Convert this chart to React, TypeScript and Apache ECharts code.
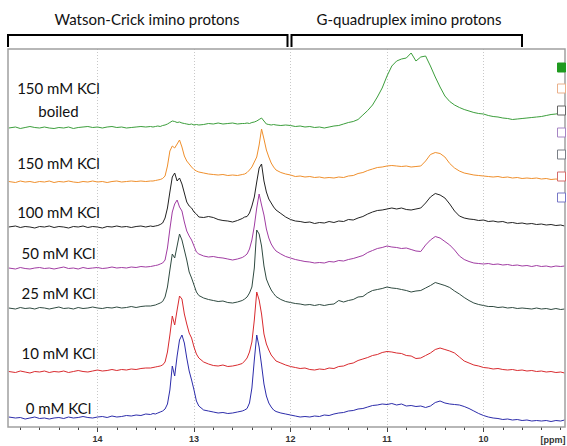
import React, { useEffect, useRef } from 'react';
import * as echarts from 'echarts';

// Chemical shift grid (ppm), shared by all spectra
const ppm = [
  14.92, 14.85, 14.8, 14.75, 14.7, 14.65, 14.6, 14.55, 14.5, 14.45, 14.4, 14.35, 14.3, 14.25, 14.2, 14.15, 14.1, 14.05, 14.0, 13.95, 13.9, 13.85, 13.8, 13.75, 13.7, 13.65, 13.6, 13.55, 13.5, 13.45,
  13.425, 13.4, 13.375, 13.35, 13.325, 13.3, 13.275, 13.25, 13.225, 13.2, 13.175, 13.15, 13.125, 13.1, 13.075, 13.05, 13.025, 13.0, 12.975, 12.95,
  12.9, 12.85, 12.8, 12.75, 12.7, 12.65, 12.6, 12.55, 12.5,
  12.475, 12.45, 12.425, 12.4, 12.375, 12.35, 12.325, 12.3, 12.275, 12.25, 12.225, 12.2, 12.175, 12.15,
  12.1, 12.05, 12.0, 11.95, 11.9, 11.85, 11.8, 11.75, 11.7, 11.65, 11.6, 11.55, 11.5, 11.45, 11.4, 11.35, 11.3, 11.25, 11.2, 11.15,
  11.1, 11.05, 11.0, 10.95, 10.9, 10.85, 10.8, 10.75, 10.7, 10.65, 10.6, 10.55, 10.5, 10.45, 10.4, 10.35, 10.3, 10.25, 10.2, 10.15,
  10.1, 10.05, 10.0, 9.95, 9.9, 9.85, 9.8, 9.75, 9.7, 9.65, 9.6, 9.55, 9.5, 9.45, 9.4, 9.35, 9.3, 9.25, 9.2, 9.16,
];

// Intensities relative to each spectrum's own baseline
const kcl150Boiled = [
  0, 1, -0.5, 0.5, 1.5, 0.5, 0, 1, 0, -0.5, 0.5, 0, 1, -0.5, 0.5, 1, 1.5, 0.5, 1, 0, 1, 1.5, 0.5, 1, 0, 0.5, 1, 1.5, 1, 1.5,
  1, 1.5, 2, 1.5, 2.5, 3, 4, 5.5, 7, 6.5, 5.5, 6, 5, 4.5, 4, 3.5, 4, 3, 3.5, 3,
  3.5, 4.5, 4, 5, 4, 4.5, 5, 4, 4.5,
  4.5, 5, 4.5, 5.5, 6, 7, 8.5, 10, 7, 4, 3.5, 3, 3.5, 3,
  2.5, 3, 2.5, 1.5, 2, 1, 1.5, 0.5, 1, 0, 1, 2, 2.5, 4, 5.5, 6.5, 8.5, 13, 17.5, 23,
  31, 40, 52, 62, 67, 69, 70, 75, 67, 71, 72, 62, 51, 41, 32, 26.5, 23, 20.5, 18.5, 17,
  15.5, 14.5, 14, 12.5, 11.5, 11, 10, 9.5, 8.5, 9, 9.5, 10, 10.5, 11, 11.5, 12.5, 13.5, 14, 15, 15.5,
];
const kcl150 = [
  0.5, -0.5, 1, 0, 0.5, -0.5, 0.5, 0, 1, -0.5, 0.5, 0, 1, 0, -0.5, 0.5, 0, 1, 0, 0.5, -0.5, 0.5, 1, 0, 0.5, 1, 0.5, 1, 0.5, 1,
  1, 1.5, 2, 2.5, 3.5, 6, 16, 31, 36, 34, 38, 42, 35, 26, 21, 18, 15, 12.5, 11, 10,
  9, 8, 7.5, 7, 7.5, 6.5, 7, 6.5, 7.5,
  8, 9.5, 12, 15, 20, 25, 37, 53, 43, 32, 25, 19, 15, 12,
  9.5, 8, 7, 5.5, 6, 5, 5.5, 4.5, 5, 4, 4.5, 4, 5, 4.5, 6, 6.5, 8.5, 9.5, 11.5, 13,
  14.5, 15, 16, 16.5, 16, 15.5, 16, 15, 15.5, 16, 21, 27.5, 29.5, 28.5, 25, 18.5, 14, 11, 9, 8,
  7, 6.5, 6, 5.5, 5, 5.5, 4.5, 5, 4, 4.5, 3.5, 4, 3.5, 4, 3, 3.5, 2.5, 3, 2.5, 3,
];
const kcl100 = [
  0, 1, -0.5, 0.5, 0, -1, 0.5, 0, 1, -0.5, 0.5, 0, -1, 0.5, 0, 1, -0.5, 0.5, 0, -1, 0.5, 0, 1, 0, 0.5, -0.5, 0.5, 1, 0, 1,
  0.5, 1, 1.5, 2.5, 4, 9, 19, 35, 50, 54, 46, 49, 43, 34, 25, 21, 19, 15, 13, 10,
  9.5, 10.5, 9.5, 7.5, 6.5, 6, 5, 6.5, 8.5,
  10, 10.5, 14, 21, 30, 45, 59, 63, 46, 35, 28, 24, 20, 17,
  13.5, 10, 7.5, 6, 5.5, 4.5, 5, 3.5, 4.5, 4, 5.5, 4.5, 6, 5.5, 7.5, 7, 9, 10.5, 13, 15,
  16.5, 17, 18, 19, 18, 19, 17.5, 17, 18, 19, 24, 30, 33.5, 32, 29, 23, 16, 11, 9, 8,
  7.5, 6.5, 7, 5.5, 6, 5, 5.5, 4, 4.5, 3.5, 4, 3, 3.5, 2.5, 3, 2, 2.5, 1.5, 2, 1,
];
const kcl50 = [
  0, -1, 0.5, -0.5, -1, 0, 0.5, -0.5, 0, -1, 0, 1, -0.5, 0, -1, 0.5, -0.5, 0, 0.5, -0.5, 0, 1, 0, 0.5, 0, 1, 0.5, 1.5, 1, 1.5,
  2, 2.5, 3, 4, 5, 8, 20, 39, 56, 64, 68, 61, 57, 46, 37, 32, 28, 22, 16, 14,
  12, 11, 11.5, 10.5, 10, 9, 8, 9, 10.5,
  12, 14, 19, 28, 42, 60, 74, 63, 53, 39, 30, 24, 20, 17,
  14, 11.5, 10, 8.5, 7.5, 6.5, 6, 5, 5.5, 5, 6.5, 6, 7.5, 7, 8.5, 9.5, 11, 12.5, 15.5, 17.5,
  19.5, 20.5, 22, 21, 20.5, 19.5, 20, 18.5, 17, 16.5, 23, 28, 31.5, 30, 26.5, 23, 18, 12, 8.5, 6.5,
  5, 4.5, 4, 4.5, 3.5, 4, 3, 3.5, 2.5, 3, 2, 2.5, 1.5, 2.5, 1.5, 2, 1, 2, 1.5, 2,
];
const kcl25 = [
  0, -1, 0.5, -0.5, 0, -1, 0.5, 0, -1, 0, 1, -0.5, 0, -1, 0.5, -0.5, 0, 1, 0, -0.5, 0.5, 0, 1, 0, 0.5, 1.5, 0.5, 1.5, 2, 2,
  2.5, 3, 4, 5, 6.5, 11, 21, 38, 54, 50, 62, 74, 68, 58, 48, 36, 30, 23, 16, 12.5,
  10, 8.5, 7.5, 6.5, 7, 5.5, 5, 6, 7.5,
  9, 11, 15, 21, 40, 78, 74, 62, 42, 29, 23, 18, 14.5, 11.5,
  8.5, 6.5, 5.5, 4.5, 4, 3, 3.5, 2.5, 3.5, 2.5, 3.5, 4, 7.5, 6, 7.5, 8.5, 11, 11.5, 15, 17.5,
  18.5, 19.5, 21, 20, 19.5, 18.5, 17.5, 16, 17, 17.5, 20, 22.5, 25.5, 24, 22.5, 20.5, 17, 14, 10.5, 7.5,
  5, 3.5, 2.5, 1.5, 1.5, 0.5, 1, 0, 0.5, -0.5, 0, -0.5, -1, 0, -1, -0.5, -1.5, -0.5, -1.5, -1,
];
const kcl10 = [
  0.5, -0.5, 1, 0, -1, 0.5, 0, 1, -0.5, 0.5, 0, 1, -0.5, 0.5, 1.5, 0.5, 0, 1, 2, 1, 1.5, 2.5, 1.5, 2.5, 2, 3, 2.5, 3.5, 4, 4,
  4.5, 5, 5.5, 6, 7, 10, 20, 37, 56, 47, 62, 76, 73, 58, 48, 39, 34, 25, 18, 14,
  10, 8, 6.5, 6, 7, 5.5, 6, 7, 8.5,
  11, 14, 20, 30, 52, 80, 72, 58, 38, 28, 22, 17, 14, 11,
  9, 7, 5.5, 4.5, 3.5, 4, 2.5, 2, 3, 2.5, 4, 3.5, 5.5, 6, 8, 9, 11.5, 13, 14.5, 16.5,
  17.5, 19.5, 20.5, 20, 19, 18.5, 16.5, 16, 13.5, 14, 16.5, 19, 22.5, 24, 22.5, 21, 19, 15, 11, 9,
  7, 6, 4.5, 4, 3, 3.5, 2.5, 2, 2.5, 1.5, 2, 1, 1.5, 0.5, 1, 0, 0.5, -0.5, 0, -1,
];
const kcl0 = [
  1, 0, 0.5, -1, 0, 1, -0.5, 0, -1, 0, 0.5, -0.5, 1, 0, 0.5, 1.5, 0.5, 0, 1, 1.5, 0.5, 2, 1, 1.5, 2.5, 2, 3, 2.5, 4, 3.5,
  4.5, 4, 5, 6, 7, 9, 14, 28, 52, 42, 62, 78, 83, 75, 60, 47, 38, 28, 17, 12,
  8, 7, 6, 5, 5.5, 4.5, 5, 6, 7,
  8, 9.5, 15, 30, 58, 83, 71, 53, 34, 22, 15, 11, 8, 6.5,
  5, 4, 3, 2, 1, 1.5, 1, 2, 1.5, 3, 2.5, 4, 5, 5.5, 7, 7.5, 9, 9.5, 11, 12.5,
  13, 14, 13.5, 14.5, 13, 14, 12, 12.5, 11.5, 12, 10.5, 12, 15.5, 17, 15, 14, 13.5, 13, 11.5, 9.5,
  7, 4.5, 2.5, 1, 0, -0.5, -1.5, -1, -2, -1.5, -2.5, -2, -3, -2.5, -3, -2.5, -3.5, -2.5, -3, -2,
];

const spectra = [kcl150Boiled, kcl150, kcl100, kcl50, kcl25, kcl10, kcl0];
const spectrumNames = ['150 mM KCl boiled', '150 mM KCl', '100 mM KCl', '50 mM KCl', '25 mM KCl', '10 mM KCl', '0 mM KCl'];
// vertical stacking offsets of the spectra
const offsets = [299, 245, 200, 159, 119, 55, 9];

const sampleLabels = ['150 mM KCl', 'boiled', '150 mM KCl', '100 mM KCl', '50 mM KCl', '25 mM KCl', '10 mM KCl', '0 mM KCl'];
const regionLabels = ['Watson-Crick imino protons', 'G-quadruplex imino protons'];

const colors = ['#3c9e3c', '#ef8f2c', '#222222', '#a03ca2', '#2f4a40', '#d82a2e', '#2c2caa'];
const legendStroke = ['#1f9a1f', '#eab08a', '#666666', '#a685c4', '#7a7f86', '#d46a6a', '#7676c6'];

const labelY = [88, 111, 163, 212, 253, 293, 353, 408];
const legendY = [63, 84, 106, 128, 150, 172, 193];
const FONT = 'Lato, "Open Sans", sans-serif';

export default function App() {
  const ref = useRef<HTMLDivElement>(null);
  useEffect(() => {
    const chart = echarts.init(ref.current!, null, { renderer: 'svg' });
    const graphics: any[] = [];
    graphics.push({ type: 'rect', z: 50, shape: { x: 8, y: 49, width: 557, height: 378 }, style: { fill: 'none', stroke: '#a0a0a0', lineWidth: 1.5 } });
    graphics.push({ type: 'rect', z: 60, shape: { x: 0, y: 0, width: 6.5, height: 446 }, style: { fill: '#ffffff' } });
    graphics.push({ type: 'polyline', z: 50, shape: { points: [[8, 47], [8, 35], [287.5, 35], [287.5, 47]] }, style: { fill: 'none', stroke: '#000', lineWidth: 2 } });
    graphics.push({ type: 'polyline', z: 50, shape: { points: [[291.5, 47], [291.5, 35], [522, 35], [522, 47]] }, style: { fill: 'none', stroke: '#000', lineWidth: 2 } });
    graphics.push({ type: 'text', z: 50, x: 147, y: 19, style: { text: regionLabels[0], font: '15px ' + FONT, fill: '#111', align: 'center', verticalAlign: 'middle' } });
    graphics.push({ type: 'text', z: 50, x: 409, y: 19, style: { text: regionLabels[1], font: '15px ' + FONT, fill: '#111', align: 'center', verticalAlign: 'middle' } });
    sampleLabels.forEach((t, i) => {
      graphics.push({ type: 'text', z: 50, x: 58.5, y: labelY[i], style: { text: t, font: '15px ' + FONT, fill: '#111', align: 'center', verticalAlign: 'middle' } });
    });
    legendY.forEach((y, i) => {
      graphics.push({ type: 'rect', z: 55, shape: { x: 557.5, y, width: 8, height: 9 }, style: { fill: i === 0 ? legendStroke[0] : '#fff', stroke: legendStroke[i], lineWidth: 1 } });
    });
    graphics.push({ type: 'text', z: 50, x: 553, y: 440, style: { text: '[ppm]', font: 'bold 9px "Liberation Sans", Arial, sans-serif', fill: '#333', align: 'center', verticalAlign: 'middle' } });

    const option: any = {
      animation: false,
      grid: { left: 1, top: 49, width: 579, height: 378, containLabel: false, outerBoundsMode: 'none' },
      xAxis: {
        type: 'value', inverse: true, min: 9, max: 15, interval: 1,
        axisLine: { show: false },
        axisTick: { show: true, length: 5, lineStyle: { color: '#444', width: 1 } },
        minorTick: { show: true, splitNumber: 5, length: 3, lineStyle: { color: '#444', width: 1 } },
        axisLabel: {
          show: true, margin: 7, fontSize: 9, fontWeight: 'bold', color: '#333',
          fontFamily: '"Liberation Sans", Arial, sans-serif',
          formatter: (v: number) => (v >= 10 && v <= 14 ? String(v) : ''),
        },
        splitLine: { show: true, showMinLine: false, showMaxLine: false, lineStyle: { color: '#c8c8c8', type: [1, 2], width: 1 } },
      },
      yAxis: { type: 'value', min: 0, max: 378, show: false },
      series: spectra.map((s, k) => ({
        name: spectrumNames[k],
        type: 'line',
        showSymbol: false,
        symbol: 'none',
        silent: true,
        lineStyle: { color: colors[k], width: 1 },
        itemStyle: { color: colors[k] },
        data: ppm.map((p, i) => [p, offsets[k] + s[i]]),
      })),
      graphic: graphics,
    };
    chart.setOption(option);
    return () => chart.dispose();
  }, []);
  return <div ref={ref} style={{ position: 'absolute', left: 0, top: 0, width: 567, height: 446, background: '#fff' }} />;
}
